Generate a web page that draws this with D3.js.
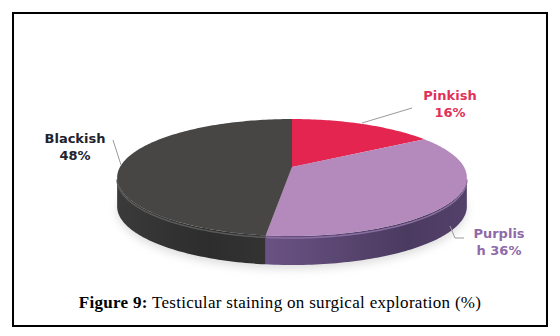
<!DOCTYPE html>
<html>
<head>
  <meta charset="utf-8">
  <title>Testicular staining</title>
  <style>
    body { margin: 0; background: #fff; }
    .lbl { font-family: "DejaVu Sans", Verdana, sans-serif; font-weight: bold; font-size: 13px; text-anchor: middle; }
    .caption { font-family: "Liberation Serif", "DejaVu Serif", serif; font-size: 17px; letter-spacing: 0.3px; text-anchor: middle; }
    .leader { fill: none; stroke: #9a9a9a; stroke-width: 1; }
  </style>
</head>
<body>
<script src="https://d3js.org/d3.v7.min.js"></script>
<script>
  var categories = ['Pinkish', 'Purplish', 'Blackish'];
  var values = [16, 36, 48];
  var labelLines = [['Pinkish', '16%'], ['Purplis', 'h 36%'], ['Blackish', '48%']];
  var topColors = ['#e3254f', '#b48abd', '#474645'];
  var textColors = ['#df3159', '#906aa9', '#22222e'];

  var width = 560, height = 336;

  var svg = d3.select('body').append('svg')
    .attr('width', width)
    .attr('height', height);

  var defs = svg.append('defs');
  defs.append('filter').attr('id', 'blur')
    .attr('x', '-20%').attr('y', '-50%').attr('width', '140%').attr('height', '200%')
    .append('feGaussianBlur').attr('stdDeviation', 4);

  // side gradients
  var g1 = defs.append('linearGradient').attr('id', 'sidePurple')
    .attr('x1', '0').attr('x2', '1').attr('y1', '0').attr('y2', '0');
  g1.append('stop').attr('offset', '0%').attr('stop-color', '#6a5384');
  g1.append('stop').attr('offset', '70%').attr('stop-color', '#4b3a60');
  g1.append('stop').attr('offset', '100%').attr('stop-color', '#54416b');
  var g2 = defs.append('linearGradient').attr('id', 'sideBlack')
    .attr('x1', '0').attr('x2', '1').attr('y1', '0').attr('y2', '0');
  g2.append('stop').attr('offset', '0%').attr('stop-color', '#3a3a3a');
  g2.append('stop').attr('offset', '60%').attr('stop-color', '#2d2d2d');
  g2.append('stop').attr('offset', '100%').attr('stop-color', '#333333');
  var sideFills = ['#a01836', 'url(#sidePurple)', 'url(#sideBlack)'];

  // frame
  svg.append('rect')
    .attr('x', 13).attr('y', 13)
    .attr('width', 534).attr('height', 313)
    .attr('fill', 'none')
    .attr('stroke', '#000')
    .attr('stroke-width', 2);

  // perspective pie geometry
  var cx = 292, cy = 167, RX = 172, RY = 56.6, k = 0.18, depth = 29;
  function proj(theta, dy) {
    var u = Math.sin(theta), v = -Math.cos(theta);
    var s = 1 / (1 - k * v);
    return [cx + RX * u * s, cy + RY * v * s + (dy || 0)];
  }
  function rim(a0, a1, dy) {
    var n = Math.max(2, Math.ceil((a1 - a0) / 0.02));
    return d3.range(n + 1).map(function(i) { return proj(a0 + (a1 - a0) * i / n, dy); });
  }
  var line = d3.line();

  var pie = d3.pie().sort(null).value(function(d) { return d; });
  var arcs = pie(values);

  // soft shadow under the pie
  svg.append('path')
    .attr('d', line(rim(0, 2 * Math.PI, depth + 4)) + 'Z')
    .attr('fill', '#c8c8c8')
    .attr('opacity', 0.6)
    .attr('filter', 'url(#blur)');

  // visible side range (silhouette)
  var vis0 = Math.PI - Math.acos(k), vis1 = Math.PI + Math.acos(k);

  svg.selectAll('.side')
    .data(arcs)
    .enter()
    .append('path')
    .attr('class', 'side')
    .attr('d', function(d) {
      var a0 = Math.max(d.startAngle, vis0), a1 = Math.min(d.endAngle, vis1);
      if (a1 <= a0) return null;
      var pts = rim(a0, a1, 0).concat(rim(a0, a1, depth).reverse());
      return line(pts) + 'Z';
    })
    .attr('fill', function(d, i) { return sideFills[i]; });

  // front rim highlight (bevel)
  svg.selectAll('.bevel')
    .data(arcs)
    .enter()
    .append('path')
    .attr('class', 'bevel')
    .attr('d', function(d) {
      var a0 = Math.max(d.startAngle, vis0), a1 = Math.min(d.endAngle, vis1);
      if (a1 <= a0) return null;
      return line(rim(a0, a1, 2));
    })
    .attr('fill', 'none')
    .attr('stroke', function(d, i) { return i === 1 ? '#8a6fa0' : '#5a5a5a'; })
    .attr('stroke-width', 1.5);

  // top slices
  svg.selectAll('.top')
    .data(arcs)
    .enter()
    .append('path')
    .attr('class', 'top')
    .attr('d', function(d) {
      var pts = [[cx, cy]].concat(rim(d.startAngle, d.endAngle, 0));
      return line(pts) + 'Z';
    })
    .attr('fill', function(d, i) { return topColors[i]; });

  // leader lines
  var leaders = [
    [[362, 123], [412, 108]],
    [[450, 226], [455, 238], [464, 238]],
    [[121, 165], [113, 140]]
  ];
  svg.selectAll('.leader')
    .data(leaders)
    .enter()
    .append('path')
    .attr('class', 'leader')
    .attr('d', function(d) { return line(d); });

  // labels
  var labelPos = [[450, 100], [499, 238], [75, 143]];
  var lg = svg.selectAll('.lbl')
    .data(labelLines)
    .enter()
    .append('text')
    .attr('class', 'lbl')
    .attr('fill', function(d, i) { return textColors[i]; });
  lg.each(function(d, i) {
    var t = d3.select(this);
    d.forEach(function(s, j) {
      t.append('tspan')
        .attr('x', labelPos[i][0])
        .attr('y', labelPos[i][1] + j * 17)
        .text(s);
    });
  });

  // caption
  var cap = svg.append('text')
    .attr('class', 'caption')
    .attr('x', 280)
    .attr('y', 308);
  cap.append('tspan').attr('font-weight', 'bold').text('Figure 9:');
  cap.append('tspan').text(' Testicular staining on surgical exploration (%)');
</script>
</body>
</html>
